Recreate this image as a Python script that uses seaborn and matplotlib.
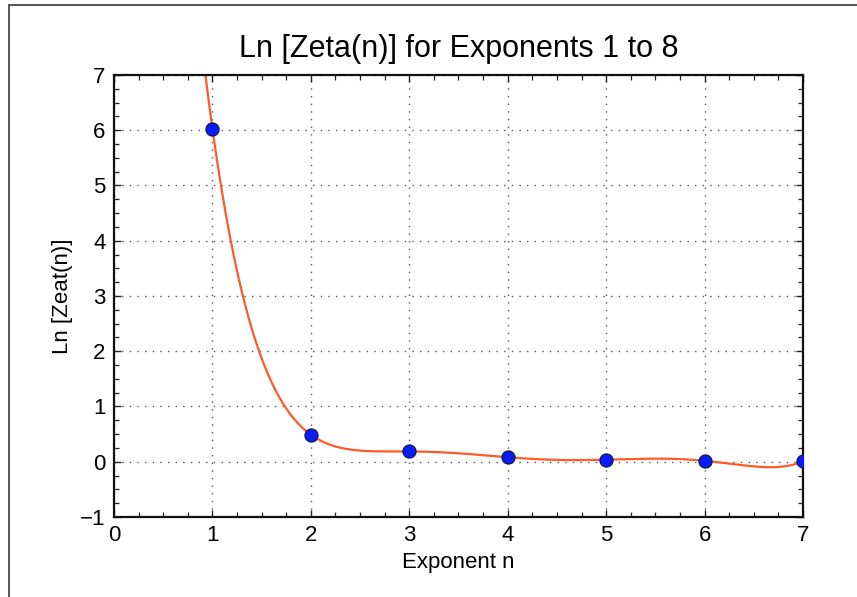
import numpy as np
import pandas as pd
import matplotlib
matplotlib.use('Agg')
import matplotlib.pyplot as plt
import seaborn as sns
from matplotlib.lines import Line2D
from matplotlib.ticker import MultipleLocator

# values
exponents = [1, 2, 3, 4, 5, 6, 7]
ln_zeta = [6.03, 0.490, 0.186, 0.082, 0.038, 0.017, 0.008]

title = 'Ln [Zeta(n)] for Exponents 1 to 8'
x_label = 'Exponent n'
y_label = 'Ln [Zeat(n)]'

sns.set_style('ticks')
plt.rcParams['font.family'] = ['Liberation Sans', 'DejaVu Sans']
plt.rcParams['text.color'] = 'black'
plt.rcParams['axes.labelcolor'] = 'black'
plt.rcParams['xtick.labelcolor'] = 'black'
plt.rcParams['ytick.labelcolor'] = 'black'

# the red line is the degree 6 polynomial through the 7 points
coef = np.polyfit(exponents, ln_zeta, len(exponents) - 1)
xs = np.linspace(0, 7, 600)
curve = pd.DataFrame({'n': xs, 'v': np.polyval(coef, xs)})

fig = plt.figure(figsize=(8.57, 5.97), dpi=100)
ax = fig.add_axes([0.133, 0.134, 0.804, 0.7404])

sns.lineplot(data=curve, x='n', y='v', color='#ff5a2a', linewidth=1.6, ax=ax, zorder=2)
sns.scatterplot(x=exponents, y=ln_zeta, s=90, color='#0a1cf5', edgecolor='#14143c',
                linewidth=0.8, zorder=3, ax=ax)

ax.set_xlim(0, 7)
ax.set_ylim(-1, 7)
ax.xaxis.set_major_locator(MultipleLocator(1))
ax.yaxis.set_major_locator(MultipleLocator(1))
ax.xaxis.set_minor_locator(MultipleLocator(0.25))
ax.yaxis.set_minor_locator(MultipleLocator(0.25))
ax.tick_params(which='both', direction='in', top=True, right=True, color='#222222')
ax.tick_params(which='major', length=5, width=1, labelsize=16, pad=6)
ax.tick_params(which='minor', length=3.3, width=0.9)
for s in ax.spines.values():
    s.set_linewidth(1.6)
    s.set_color('#111111')

ax.grid(True, which='major', linestyle=(0, (1, 4.5)), color='#555555', linewidth=1)

ax.set_title(title, fontsize=22, pad=13)
ax.set_xlabel(x_label, fontsize=16, labelpad=4)
ax.set_ylabel(y_label, fontsize=16, labelpad=5)

# grey frame around the picture (right and bottom fall outside the crop)
fig.add_artist(Line2D([9 / 857, 9 / 857], [0, 1 - 5 / 597], transform=fig.transFigure,
                      color='#555555', linewidth=1.4))
fig.add_artist(Line2D([9 / 857, 1], [1 - 5 / 597, 1 - 5 / 597], transform=fig.transFigure,
                      color='#555555', linewidth=1.4))

fig.savefig('out.png', dpi=100)
